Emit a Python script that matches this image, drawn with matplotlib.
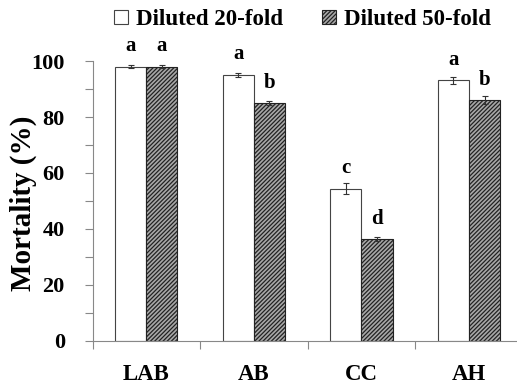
import matplotlib
matplotlib.use("Agg")
import matplotlib.pyplot as plt
import numpy as np

categories = ["LAB", "AB", "CC", "AH"]
fold20 = [98.0, 95.0, 54.3, 93.1]
fold50 = [98.0, 84.9, 36.2, 86.0]
err20 = [0.5, 0.7, 2.0, 1.3]
err50 = [0.5, 0.7, 0.7, 1.4]
letters20 = ["a", "a", "c", "a"]
letters50 = ["a", "b", "d", "b"]

plt.rcParams['font.family'] = ['Liberation Serif', 'DejaVu Serif']
plt.rcParams['font.weight'] = 'bold'
plt.rcParams['hatch.linewidth'] = 0.9

fig = plt.figure(figsize=(5.17, 3.87), dpi=100)
ax = fig.add_axes([0.179, 0.12, 0.821, 0.722])

x = np.arange(len(categories))
w = 0.29
b1 = ax.bar(x - w/2, fold20, w, color='white', edgecolor='#444444', linewidth=0.8,
            label='Diluted 20-fold')
b2 = ax.bar(x + w/2, fold50, w, color='#a8a8a8', edgecolor='#222222', linewidth=0.8,
            hatch='////////', label='Diluted 50-fold')
ax.errorbar(x - w/2, fold20, yerr=err20, fmt='none', ecolor='#333333', elinewidth=0.8, capsize=2.5, capthick=0.8)
ax.errorbar(x + w/2, fold50, yerr=err50, fmt='none', ecolor='#333333', elinewidth=0.8, capsize=2.5, capthick=0.8)

for i in range(len(categories)):
    ax.text(x[i] - w/2, fold20[i] + 5.6, letters20[i], ha='center', va='baseline', fontsize=15, fontweight='bold')
    ax.text(x[i] + w/2, fold50[i] + 5.6, letters50[i], ha='center', va='baseline', fontsize=15, fontweight='bold')

ax.set_xlim(-0.5, 3.447)
ax.set_ylim(0, 100)
ax.set_yticks(np.arange(0, 101, 20))
ax.set_yticks(np.arange(10, 100, 20), minor=True)
ax.set_xticks(np.arange(-0.5, 3.5, 1), minor=True)
ax.set_xticks(x)
ax.set_xticklabels(categories)
ax.tick_params(axis='x', which='major', length=0, pad=17, labelsize=16.5)
ax.tick_params(axis='x', which='minor', length=6, color='#888888', width=0.8)
ax.tick_params(axis='y', which='both', length=6, color='#888888', width=0.8, pad=14, labelsize=16)
for lab in ax.get_xticklabels() + ax.get_yticklabels():
    lab.set_fontweight('bold')

ax.spines['top'].set_visible(False)
ax.spines['right'].set_visible(False)
ax.spines['left'].set_color('#888888')
ax.spines['bottom'].set_color('#888888')
ax.spines['left'].set_linewidth(0.8)
ax.spines['bottom'].set_linewidth(0.8)

ax.set_ylabel('Mortality (%)', fontsize=21, fontweight='bold')
ax.yaxis.set_label_coords(-0.13, 0.49)

fig.legend(handles=[b1, b2], loc='upper center', bbox_to_anchor=(0.585, 1.03), ncol=2,
           frameon=False, handlelength=0.6, handleheight=0.6,
           handletextpad=0.35, columnspacing=1.7, prop={'weight': 'bold', 'size': 16.5})

fig.savefig('out.png', dpi=100)
